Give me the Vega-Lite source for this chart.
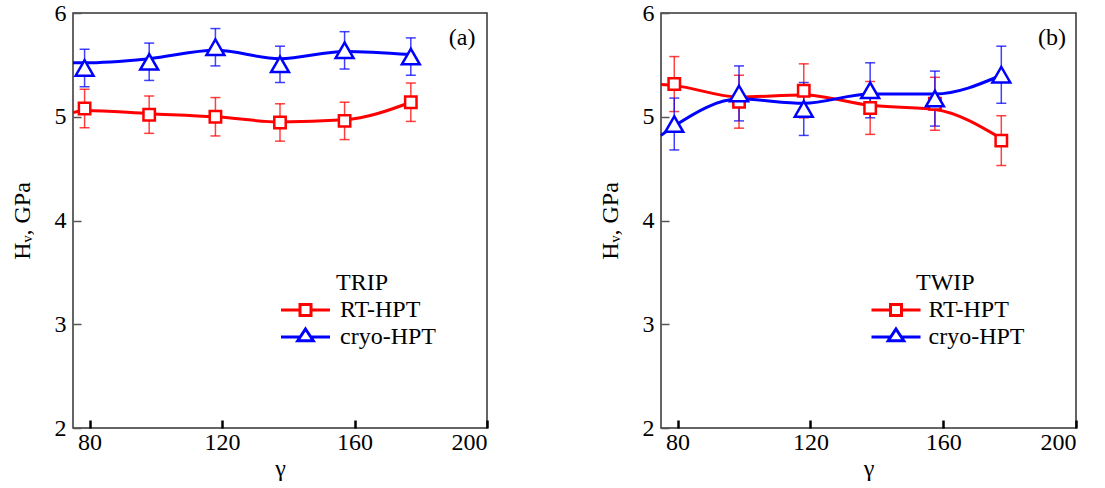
{
  "$schema": "https://vega.github.io/schema/vega-lite/v6.json",
  "padding": {"left": 9, "top": 0, "right": 5, "bottom": 5},
  "spacing": 108,
  "background": "white",
  "resolve": {"scale": {"color": "independent", "stroke": "independent"}, "legend": {"color": "independent", "stroke": "independent"}},
  "config": {
    "font": "Liberation Serif",
    "view": {"stroke": "#333333", "strokeWidth": 1.5},
    "axis": {"labelFont": "Liberation Serif", "titleFont": "Liberation Serif", "labelFontSize": 24, "titleFontSize": 24, "labelColor": "black", "titleColor": "black", "titleFontWeight": "normal", "grid": false, "domain": false},
    "legend": {"labelFont": "Liberation Serif", "titleFont": "Liberation Serif"}
  },
  "datasets": {
    "trip": [
      {"series": "RT-HPT", "g": 75, "fit": 5.04},
      {"series": "RT-HPT", "g": 78.5, "hv": 5.08, "err": 0.185, "fit": 5.06},
      {"series": "RT-HPT", "g": 98, "hv": 5.02, "err": 0.18, "fit": 5.03},
      {"series": "RT-HPT", "g": 118, "hv": 5.0, "err": 0.185, "fit": 5.0},
      {"series": "RT-HPT", "g": 137.5, "hv": 4.945, "err": 0.18, "fit": 4.95},
      {"series": "RT-HPT", "g": 157, "hv": 4.96, "err": 0.18, "fit": 4.97},
      {"series": "RT-HPT", "g": 177, "hv": 5.14, "err": 0.185, "fit": 5.14},
      {"series": "cryo-HPT", "g": 75, "fit": 5.52},
      {"series": "cryo-HPT", "g": 78.5, "hv": 5.47, "err": 0.18, "fit": 5.52},
      {"series": "cryo-HPT", "g": 98, "hv": 5.53, "err": 0.18, "fit": 5.56},
      {"series": "cryo-HPT", "g": 118, "hv": 5.67, "err": 0.18, "fit": 5.64},
      {"series": "cryo-HPT", "g": 137.5, "hv": 5.505, "err": 0.175, "fit": 5.56},
      {"series": "cryo-HPT", "g": 157, "hv": 5.64, "err": 0.18, "fit": 5.63},
      {"series": "cryo-HPT", "g": 177, "hv": 5.58, "err": 0.18, "fit": 5.6}
    ],
    "twip": [
      {"series": "RT-HPT", "g": 75, "fit": 5.31},
      {"series": "RT-HPT", "g": 79, "hv": 5.315, "err": 0.265, "fit": 5.3},
      {"series": "RT-HPT", "g": 98.5, "hv": 5.145, "err": 0.255, "fit": 5.19},
      {"series": "RT-HPT", "g": 118, "hv": 5.25, "err": 0.26, "fit": 5.21},
      {"series": "RT-HPT", "g": 138, "hv": 5.085, "err": 0.255, "fit": 5.11},
      {"series": "RT-HPT", "g": 157.5, "hv": 5.125, "err": 0.255, "fit": 5.07},
      {"series": "RT-HPT", "g": 177.5, "hv": 4.77, "err": 0.24, "fit": 4.79},
      {"series": "cryo-HPT", "g": 75, "fit": 4.82},
      {"series": "cryo-HPT", "g": 79, "hv": 4.93, "err": 0.25, "fit": 4.91},
      {"series": "cryo-HPT", "g": 98.5, "hv": 5.225, "err": 0.265, "fit": 5.17},
      {"series": "cryo-HPT", "g": 118, "hv": 5.075, "err": 0.255, "fit": 5.13},
      {"series": "cryo-HPT", "g": 138, "hv": 5.255, "err": 0.265, "fit": 5.22},
      {"series": "cryo-HPT", "g": 157.5, "hv": 5.175, "err": 0.265, "fit": 5.22},
      {"series": "cryo-HPT", "g": 177.5, "hv": 5.405, "err": 0.275, "fit": 5.4}
    ]
  },
  "hconcat": [
    {
      "width": 414,
      "height": 415,
      "view": {"stroke": "#333333", "strokeWidth": 1.5},
      "data": {"name": "trip"},
      "encoding": {
        "x": {"field": "g", "type": "quantitative", "scale": {"domain": [75, 200], "nice": false, "zero": false},
              "axis": {"values": [80, 120, 160, 200], "format": "d", "tickSize": -8, "tickWidth": 2.5, "tickColor": "black", "labelPadding": 10, "labelFont": "Liberation Serif", "labelFontSize": 24, "labelColor": "black", "title": "γ", "titleFont": "Liberation Serif", "titleFontSize": 24, "titleFontWeight": "normal", "titleColor": "black", "titlePadding": 2, "domain": false, "grid": false}},
        "y": {"field": "hv", "type": "quantitative"}
      },
      "layer": [
        {
          "mark": {"type": "errorbar", "ticks": {"size": 10}, "thickness": 1.5, "opacity": 0.75},
          "encoding": {
            "y": {"field": "hv", "type": "quantitative", "scale": {"domain": [2, 6], "nice": false, "zero": false},
                  "axis": {"values": [2, 3, 4, 5, 6], "format": "d", "tickSize": -8, "tickWidth": 1.5, "tickColor": "#555555", "labelPadding": 15, "labelFont": "Liberation Serif", "labelFontSize": 24, "labelColor": "black", "title": "Hᵥ, GPa", "titleFont": "Liberation Serif", "titleFontSize": 24, "titleFontWeight": "normal", "titleColor": "black", "titlePadding": 20, "domain": false, "grid": false}},
            "yError": {"field": "err"},
            "color": {"field": "series", "type": "nominal", "scale": {"domain": ["cryo-HPT", "RT-HPT"], "range": ["#0000ff", "#ff0000"]}, "legend": null}
          }
        },
        {
          "mark": {"type": "line", "interpolate": "monotone", "strokeWidth": 3},
          "encoding": {
            "y": {"field": "fit", "type": "quantitative"},
            "stroke": {"field": "series", "type": "nominal", "scale": {"domain": ["RT-HPT", "cryo-HPT"], "range": ["#ff0000", "#0000ff"]},
              "legend": {"orient": "none", "legendX": 220.5, "legendY": 258, "title": "TRIP", "titleFont": "Liberation Serif", "titleFontSize": 24, "titleFontWeight": "normal", "titleColor": "black", "titlePadding": 3,
                "labelFont": "Liberation Serif", "labelFontSize": 24, "labelColor": "black", "labelOffset": 22.5, "symbolSize": 100, "symbolStrokeWidth": 3, "symbolFillColor": "white", "rowPadding": 1, "padding": 0,
                "encode": {
                  "symbols": {"update": {"shape": {"signal": "datum.value === 'RT-HPT' ? 'M-4.9,0H-1.1M1.1,0H4.9M-1.1,-1.1H1.1V1.1H-1.1Z' : 'M-4.9,0H-1.05M1.05,0H4.9M0,-1.6L1.55,0.75H-1.55Z'"}, "size": {"value": 100}, "fill": {"value": "white"}, "fillOpacity": {"value": 1}, "strokeWidth": {"value": 3}, "opacity": {"value": 1}}},
                  "title": {"update": {"dx": {"value": 42.5}}}
                }}}
          }
        },
        {
          "mark": {"type": "point", "filled": false, "fill": "white", "fillOpacity": 1, "strokeWidth": 2.5, "opacity": 1},
          "encoding": {
            "y": {"field": "hv", "type": "quantitative"},
            "stroke": {"field": "series", "type": "nominal"},
            "shape": {"condition": {"test": "datum.series === 'RT-HPT'", "value": "square"}, "value": "triangle-up"},
            "size": {"condition": {"test": "datum.series === 'RT-HPT'", "value": 130}, "value": 320}
          }
        },
        {
          "data": {"values": [{"lx": 192.5, "ly": 5.76, "t": "(a)"}]},
          "mark": {"type": "text", "fontSize": 24, "font": "Liberation Serif", "color": "black"},
          "encoding": {
            "x": {"field": "lx", "type": "quantitative"},
            "y": {"field": "ly", "type": "quantitative"},
            "text": {"field": "t"}
          }
        }
      ]
    },
    {
      "width": 415,
      "height": 415,
      "view": {"stroke": "#333333", "strokeWidth": 1.5},
      "data": {"name": "twip"},
      "encoding": {
        "x": {"field": "g", "type": "quantitative", "scale": {"domain": [75, 200], "nice": false, "zero": false},
              "axis": {"values": [80, 120, 160, 200], "format": "d", "tickSize": -8, "tickWidth": 2.5, "tickColor": "black", "labelPadding": 10, "labelFont": "Liberation Serif", "labelFontSize": 24, "labelColor": "black", "title": "γ", "titleFont": "Liberation Serif", "titleFontSize": 24, "titleFontWeight": "normal", "titleColor": "black", "titlePadding": 2, "domain": false, "grid": false}},
        "y": {"field": "hv", "type": "quantitative"}
      },
      "layer": [
        {
          "mark": {"type": "errorbar", "ticks": {"size": 10}, "thickness": 1.5, "opacity": 0.75},
          "encoding": {
            "y": {"field": "hv", "type": "quantitative", "scale": {"domain": [2, 6], "nice": false, "zero": false},
                  "axis": {"values": [2, 3, 4, 5, 6], "format": "d", "tickSize": -8, "tickWidth": 1.5, "tickColor": "#555555", "labelPadding": 15, "labelFont": "Liberation Serif", "labelFontSize": 24, "labelColor": "black", "title": "Hᵥ, GPa", "titleFont": "Liberation Serif", "titleFontSize": 24, "titleFontWeight": "normal", "titleColor": "black", "titlePadding": 20, "domain": false, "grid": false}},
            "yError": {"field": "err"},
            "color": {"field": "series", "type": "nominal", "scale": {"domain": ["cryo-HPT", "RT-HPT"], "range": ["#0000ff", "#ff0000"]}, "legend": null}
          }
        },
        {
          "mark": {"type": "line", "interpolate": "monotone", "strokeWidth": 3},
          "encoding": {
            "y": {"field": "fit", "type": "quantitative"},
            "stroke": {"field": "series", "type": "nominal", "scale": {"domain": ["RT-HPT", "cryo-HPT"], "range": ["#ff0000", "#0000ff"]},
              "legend": {"orient": "none", "legendX": 223, "legendY": 258, "title": "TWIP", "titleFont": "Liberation Serif", "titleFontSize": 24, "titleFontWeight": "normal", "titleColor": "black", "titlePadding": 3,
                "labelFont": "Liberation Serif", "labelFontSize": 24, "labelColor": "black", "labelOffset": 20.5, "symbolSize": 100, "symbolStrokeWidth": 3, "symbolFillColor": "white", "rowPadding": 1, "padding": 0,
                "encode": {
                  "symbols": {"update": {"shape": {"signal": "datum.value === 'RT-HPT' ? 'M-4.9,0H-1.1M1.1,0H4.9M-1.1,-1.1H1.1V1.1H-1.1Z' : 'M-4.9,0H-1.05M1.05,0H4.9M0,-1.6L1.55,0.75H-1.55Z'"}, "size": {"value": 100}, "fill": {"value": "white"}, "fillOpacity": {"value": 1}, "strokeWidth": {"value": 3}, "opacity": {"value": 1}}},
                  "title": {"update": {"dx": {"value": 32}}}
                }}}
          }
        },
        {
          "mark": {"type": "point", "filled": false, "fill": "white", "fillOpacity": 1, "strokeWidth": 2.5, "opacity": 1},
          "encoding": {
            "y": {"field": "hv", "type": "quantitative"},
            "stroke": {"field": "series", "type": "nominal"},
            "shape": {"condition": {"test": "datum.series === 'RT-HPT'", "value": "square"}, "value": "triangle-up"},
            "size": {"condition": {"test": "datum.series === 'RT-HPT'", "value": 130}, "value": 320}
          }
        },
        {
          "data": {"values": [{"lx": 192.8, "ly": 5.76, "t": "(b)"}]},
          "mark": {"type": "text", "fontSize": 24, "font": "Liberation Serif", "color": "black"},
          "encoding": {
            "x": {"field": "lx", "type": "quantitative"},
            "y": {"field": "ly", "type": "quantitative"},
            "text": {"field": "t"}
          }
        }
      ]
    }
  ]
}
